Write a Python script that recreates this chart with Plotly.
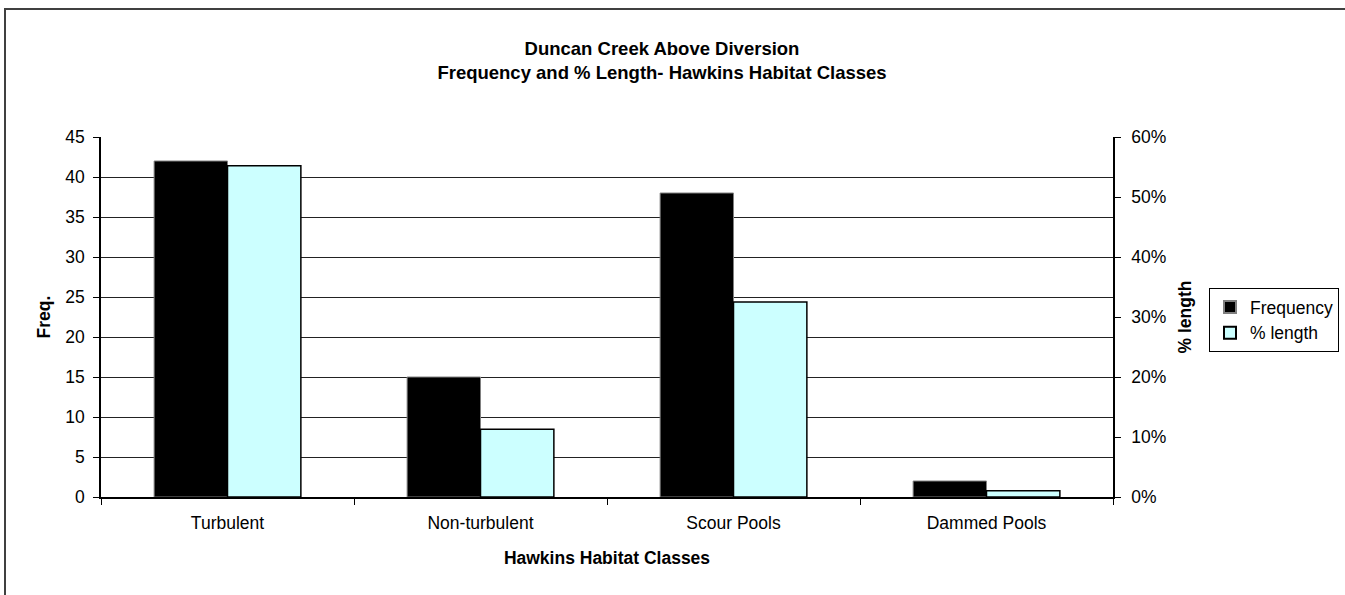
import plotly.graph_objects as go

categories = ["Turbulent", "Non-turbulent", "Scour Pools", "Dammed Pools"]
frequency = [42, 15, 38, 2]
pct_length = [0.552, 0.113, 0.325, 0.0105]

FONT = "Liberation Sans, Arial, sans-serif"
W, H = 1345, 595
L, R, T, B = 101, 232, 137, 98
PW, PH = W - L - R, H - T - B

fig = go.Figure()
fig.add_trace(go.Bar(
    x=categories, y=frequency, name="Frequency",
    marker=dict(color="#000000", line=dict(color="#808080", width=1)),
    width=0.29, offset=-0.29, yaxis="y",
))
fig.add_trace(go.Bar(
    x=categories, y=pct_length, name="% length",
    marker=dict(color="#CCFFFF", line=dict(color="#000000", width=1.5)),
    width=0.29, offset=0.0, yaxis="y2",
))

def px_x(p):
    return (p - L) / PW

def px_y(p):
    return (H - B - p) / PH

fig.update_layout(
    width=W, height=H,
    margin=dict(l=L, r=R, t=T, b=B, autoexpand=False),
    paper_bgcolor="white", plot_bgcolor="white",
    font=dict(family=FONT, size=17.5, color="black"),
    showlegend=True,
    barmode="overlay",
    title=dict(
        text="<b>Duncan Creek Above Diversion<br>Frequency and % Length- Hawkins Habitat Classes</b>",
        x=662 / W, xanchor="center", xref="container",
        y=1 - 55 / H, yanchor="top", yref="container",
        font=dict(family=FONT, size=18.5, color="black"),
    ),
    xaxis=dict(
        type="category", categoryorder="array", categoryarray=categories,
        showline=True, linecolor="black", linewidth=1.5,
        ticks="outside", ticklen=6, tickcolor="black", tickson="boundaries",
        ticklabelstandoff=9,
        showgrid=False, zeroline=False,
        tickfont=dict(size=17.5),
        title=dict(text="<b>Hawkins Habitat Classes</b>", font=dict(size=17.5), standoff=20),
    ),
    yaxis=dict(
        range=[0, 45], dtick=5, tick0=0,
        showline=True, linecolor="black", linewidth=1.5,
        ticks="outside", ticklen=6, tickcolor="black",
        ticklabelstandoff=5,
        showgrid=True, gridcolor="#222222", gridwidth=1,
        zeroline=False,
        tickfont=dict(size=17.5),
        title=dict(text="<b>Freq.</b>", font=dict(size=17.5), standoff=10),
    ),
    yaxis2=dict(
        range=[0, 0.6], dtick=0.1, tick0=0, tickformat=".0%",
        overlaying="y", side="right", anchor="x",
        showline=True, linecolor="black", linewidth=1.5,
        ticks="outside", ticklen=6, tickcolor="black",
        ticklabelstandoff=7,
        showgrid=False, zeroline=False,
        tickfont=dict(size=17.5),
        title=dict(text="<b>% length</b>", font=dict(size=17.5), standoff=13),
    ),
    yaxis3=dict(
        range=[0, 0.6], dtick=0.1, tick0=0,
        overlaying="y", side="right", anchor="x",
        showline=False, ticks="inside", ticklen=6, tickcolor="black",
        showticklabels=False, showgrid=False, zeroline=False,
    ),
    legend=dict(
        x=px_x(1209), y=px_y(288), xanchor="left", yanchor="top",
        bordercolor="black", borderwidth=1, bgcolor="white",
        font=dict(size=17.5), tracegroupgap=0, itemsizing="constant",
    ),
    shapes=[dict(
        type="rect", xref="paper", yref="paper",
        x0=px_x(5), x1=px_x(W + 20), y0=px_y(H + 20), y1=px_y(9),
        line=dict(color="#404040", width=2), fillcolor="rgba(0,0,0,0)",
        layer="below",
    )],
)

fig.write_html(
    "out.html",
    config={"displayModeBar": False},
    post_script="document.body.style.margin='0';document.body.style.overflow='hidden';",
)
